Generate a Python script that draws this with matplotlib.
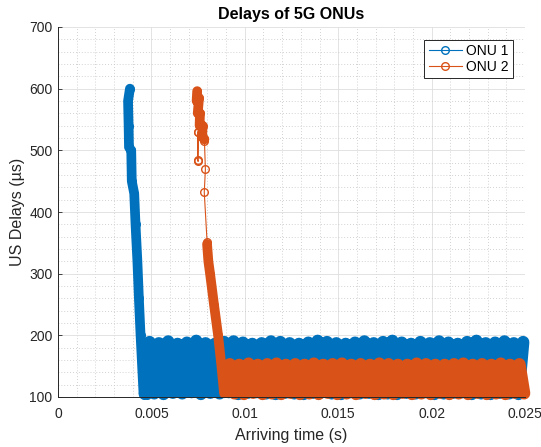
import numpy as np
import matplotlib.pyplot as plt
from matplotlib.lines import Line2D
from matplotlib.ticker import MultipleLocator, FuncFormatter

plt.rcParams['font.family'] = ['Liberation Sans', 'DejaVu Sans']

BLUE = '#0072BD'
ORANGE = '#D95319'
INK = '#262626'

# ---------------------------------------------------------------
# DATA  (times in ms, delays in µs)
# ---------------------------------------------------------------
# ONU 1 : initial queue drain
onu1_ramp_t = [3.85, 3.75, 3.78, 3.80, 3.92, 3.95, 4.08, 4.15, 4.25, 4.33,
               4.42, 4.52, 4.58, 4.68, 4.76, 4.82]
onu1_ramp_d = [600, 580, 540, 505, 500, 450, 430, 380, 320, 260,
               200, 140, 104, 125, 104, 118]

# ONU 1 : steady state
onu1_band_t = [4.90, 5.15, 5.40, 5.65, 5.90, 6.15, 6.40, 6.65, 6.90, 7.15,
               7.40, 7.65, 7.90, 8.15, 8.40, 8.65, 8.90, 9.15, 9.40, 9.65,
               9.90, 10.15, 10.40, 10.65, 10.90, 11.15, 11.40, 11.65, 11.90, 12.15,
               12.40, 12.65, 12.90, 13.15, 13.40, 13.65, 13.90, 14.15, 14.40, 14.65,
               14.90, 15.15, 15.40, 15.65, 15.90, 16.15, 16.40, 16.65, 16.90, 17.15,
               17.40, 17.65, 17.90, 18.15, 18.40, 18.65, 18.90, 19.15, 19.40, 19.65,
               19.90, 20.15, 20.40, 20.65, 20.90, 21.15, 21.40, 21.65, 21.90, 22.15,
               22.40, 22.65, 22.90, 23.15, 23.40, 23.65, 23.90, 24.15, 24.40, 24.65,
               24.90]
onu1_band_d = [189, 106, 187, 105, 190, 107, 186, 106, 188, 108,
               191, 105, 187, 107, 186, 106, 189, 108, 190, 105,
               188, 107, 186, 108, 187, 106, 190, 105, 189, 107,
               187, 106, 186, 105, 188, 107, 191, 108, 189, 106,
               187, 105, 186, 108, 188, 106, 190, 107, 187, 105,
               189, 106, 191, 105, 188, 107, 186, 106, 189, 108,
               187, 105, 190, 106, 188, 107, 186, 108, 189, 105,
               191, 106, 187, 105, 188, 107, 190, 106, 187, 105,
               189]

# ONU 2 : first burst
onu2_head_t = [7.45, 7.42, 7.55, 7.48, 7.60, 7.58, 7.74, 7.72, 7.84]
onu2_head_d = [596, 580, 585, 560, 560, 540, 540, 522, 518]

# ONU 2 : sparse samples
onu2_tailA_t = [7.48, 7.47, 7.50, 7.52]
onu2_tailA_d = [530, 485, 482, 530]
onu2_tailB_t = [7.84, 7.89, 7.83, 7.98]
onu2_tailB_d = [515, 469, 432, 352]

# ONU 2 : queue drain
onu2_ramp_t = [7.98, 8.05, 8.14, 8.35, 8.57, 8.75, 8.89, 9.02, 9.10, 9.15]
onu2_ramp_d = [348, 320, 300, 250, 200, 150, 106, 125, 106, 120]

# ONU 2 : steady state
onu2_band_t = [9.20, 9.45, 9.70, 9.95, 10.20, 10.45, 10.70, 10.95, 11.20, 11.45,
               11.70, 11.95, 12.20, 12.45, 12.70, 12.95, 13.20, 13.45, 13.70, 13.95,
               14.20, 14.45, 14.70, 14.95, 15.20, 15.45, 15.70, 15.95, 16.20, 16.45,
               16.70, 16.95, 17.20, 17.45, 17.70, 17.95, 18.20, 18.45, 18.70, 18.95,
               19.20, 19.45, 19.70, 19.95, 20.20, 20.45, 20.70, 20.95, 21.20, 21.45,
               21.70, 21.95, 22.20, 22.45, 22.70, 22.95, 23.20, 23.45, 23.70, 23.95,
               24.20, 24.45, 24.70, 24.95]
onu2_band_d = [153, 106, 152, 105, 154, 107, 152, 105, 153, 106,
               154, 105, 152, 107, 153, 105, 152, 106, 154, 105,
               152, 107, 153, 105, 154, 106, 152, 105, 153, 107,
               152, 105, 154, 106, 153, 105, 152, 107, 152, 105,
               154, 106, 153, 105, 152, 107, 152, 105, 153, 106,
               154, 105, 152, 107, 153, 105, 152, 106, 154, 105,
               152, 107, 153, 106]

labels = ['ONU 1', 'ONU 2']


def ms(t):
    return np.asarray(t) / 1000.0


# ---------------------------------------------------------------
# PLOT
# ---------------------------------------------------------------
fig = plt.figure(figsize=(5.41, 4.47), dpi=100)
ax = fig.add_axes([58 / 541, 50 / 447, 467 / 541, 370 / 447])

mk = dict(marker='o', mfc='none', ms=5.5, mew=1.0, clip_on=False,
          solid_capstyle='round', solid_joinstyle='round')

# ONU 1
ax.plot(ms(onu1_ramp_t), onu1_ramp_d, color=BLUE, lw=7.0, **mk)
ax.plot(ms(onu1_band_t), onu1_band_d, color=BLUE, lw=9.0, **mk)

# ONU 2
ax.plot(ms(onu2_head_t), onu2_head_d, color=ORANGE, lw=7.0, **mk)
ax.plot(ms(onu2_tailA_t), onu2_tailA_d, color=ORANGE, lw=0.8, **mk)
ax.plot(ms(onu2_tailB_t), onu2_tailB_d, color=ORANGE, lw=0.8, **mk)
ax.plot(ms(onu2_ramp_t), onu2_ramp_d, color=ORANGE, lw=7.0, **mk)
ax.plot(ms(onu2_band_t), onu2_band_d, color=ORANGE, lw=9.0, **mk)

ax.set_xlim(0, 0.025)
ax.set_ylim(100, 700)
ax.xaxis.set_major_locator(MultipleLocator(0.005))
ax.xaxis.set_minor_locator(MultipleLocator(0.001))
ax.yaxis.set_major_locator(MultipleLocator(100))
ax.yaxis.set_minor_locator(MultipleLocator(20))
ax.xaxis.set_major_formatter(FuncFormatter(lambda v, p: '%g' % round(v, 4)))

ax.set_axisbelow(True)
ax.grid(which='major', color='#dedede', lw=0.6, ls='-')
ax.grid(which='minor', color='#c4c4c4', lw=0.6, ls=(0, (1, 2.5)))

for s in ['top', 'right']:
    ax.spines[s].set_visible(False)
for s in ['left', 'bottom']:
    ax.spines[s].set_color(INK)
    ax.spines[s].set_linewidth(0.7)

ax.tick_params(which='both', direction='in', colors=INK, labelsize=10,
               length=3, width=0.6)
ax.tick_params(axis='x', pad=7)
ax.tick_params(axis='y', pad=4)
ax.tick_params(which='minor', length=0)

ax.set_title('Delays of 5G ONUs', fontsize=11.5, fontweight='bold', pad=6)
ax.set_xlabel('Arriving time (s)', fontsize=11.5, color=INK, labelpad=5)
ax.set_ylabel('US Delays (µs)', fontsize=11.5, color=INK, labelpad=3)

handles = [Line2D([], [], color=BLUE, lw=0.8, marker='o', mfc='none', ms=5.5),
           Line2D([], [], color=ORANGE, lw=0.8, marker='o', mfc='none', ms=5.5)]
leg = ax.legend(handles, labels, loc='upper right', bbox_to_anchor=(0.974, 0.965),
                fontsize=10, fancybox=False, framealpha=1, edgecolor=INK,
                handlelength=2.4, borderpad=0.3, labelspacing=0.15,
                handletextpad=0.3, borderaxespad=0)
leg.get_frame().set_linewidth(0.7)

fig.savefig('out.png', dpi=100)
